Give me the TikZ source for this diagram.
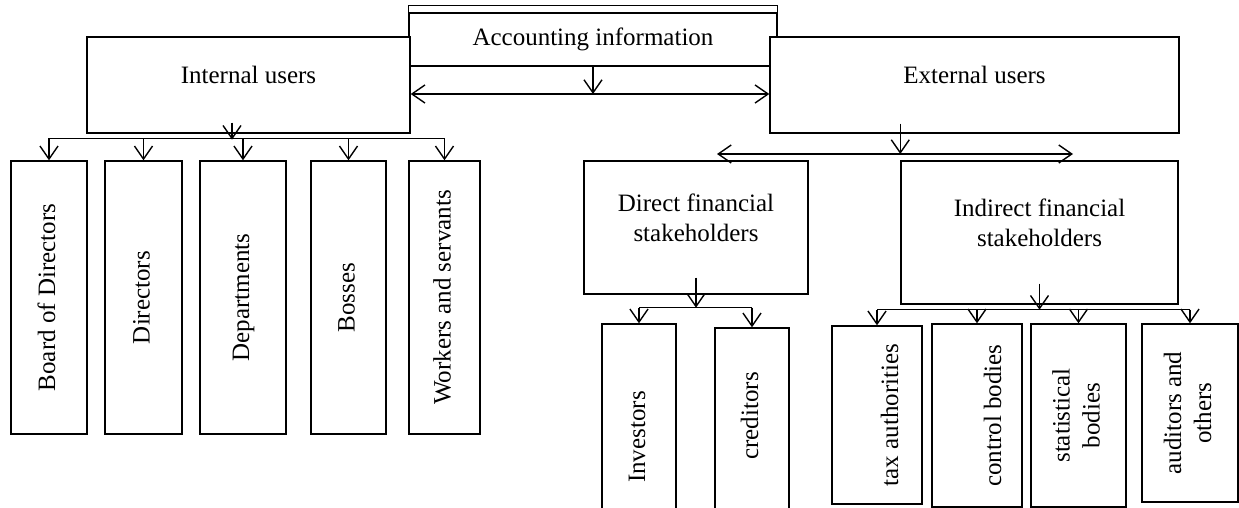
\documentclass[tikz,border=0pt]{standalone}
\usepackage{fontspec}
\setmainfont{Liberation Serif}
\usetikzlibrary{arrows.meta}

\newcommand{\vtext}[1]{\rotatebox{90}{\begin{tabular}{@{}c@{}}#1\end{tabular}}}

\begin{document}
\begin{tikzpicture}[x=0.5pt,y=-0.5pt,line width=0.7pt,
    >={Straight Barb[length=6.5pt,width=9pt]}]
  \tikzstyle{box}=[draw, fill=white, rectangle, inner sep=0pt,
    font=\fontsize{12.5}{15}\selectfont]

  \useasboundingbox (0,0) rectangle (1239,508);
  \clip (0,0) rectangle (1239,508);

  % top row
  \node[box, minimum width=184pt, minimum height=26.5pt] (acc) at (593,39.5) {Accounting information};
  \draw (acc.north west) -- ++(0,-7) -| (acc.north east);
  \node[box, minimum width=161.5pt, minimum height=48pt, text height=9pt, text depth=10pt] (int) at (248.5,85) {Internal users};
  \node[box, minimum width=204.5pt, minimum height=48pt, text height=9pt, text depth=10pt] (ext) at (974.5,85) {External users};

  % internal users
  \node[box, minimum width=38pt, minimum height=136.5pt] (bod) at (49,297.5) {\vtext{Board of Directors}};
  \node[box, minimum width=38.5pt, minimum height=136.5pt] (dir) at (143.5,297.5) {\vtext{Directors}};
  \node[box, minimum width=43pt, minimum height=136.5pt] (dep) at (243,297.5) {\vtext{Departments}};
  \node[box, minimum width=37.5pt, minimum height=136.5pt] (bos) at (348.5,297.5) {\vtext{Bosses}};
  \node[box, minimum width=35.5pt, minimum height=136.5pt] (wrk) at (444.5,297.5) {\vtext{Workers and servants}};

  % external users
  \node[box, align=center, minimum width=112pt, minimum height=66.5pt, text depth=10pt] (dfs) at (696,227.5) {Direct financial\\stakeholders};
  \node[box, align=center, minimum width=138.5pt, minimum height=71.5pt, text depth=10pt] (ifs) at (1039.5,232.5) {Indirect financial\\stakeholders};

  \node[box, minimum width=37pt, minimum height=113pt] (inv) at (639,437) {\vtext{Investors}};
  \node[box, minimum width=37pt, minimum height=111pt] (cre) at (752,439) {\vtext{\hspace*{23pt}creditors}};

  \node[box, minimum width=45pt, minimum height=89pt] (tax) at (877,415) {\hspace*{15pt}\vtext{tax authorities}};
  \node[box, minimum width=45pt, minimum height=91.5pt] (ctl) at (977,415.5) {\hspace*{18pt}\vtext{control bodies}};
  \node[box, minimum width=47.5pt, minimum height=91.5pt] (sta) at (1078.5,415.5) {\vtext{statistical\\bodies}};
  \node[box, minimum width=48pt, minimum height=89pt] (aud) at (1190,413) {\vtext{auditors and\\others}};

  % connectors
  \coordinate (ia) at ([yshift=-4.5pt]int.east);
  \coordinate (ea) at ([yshift=-4.5pt]ext.west);
  \draw[<->] (ia) -- (ea);
  \draw[->] (acc.south) -- (acc.south |- ia);

  \coordinate (ib) at ([xshift=-8.25pt,yshift=-3pt]int.south);
  \draw[->] ([yshift=8.5pt]ib) -- (ib);
  \draw ([yshift=11pt]bod.north) -- ([yshift=11pt]wrk.north);
  \foreach \n in {bod,dir,dep,bos,wrk}
    \draw[->] ([yshift=11pt]\n.north) -- (\n.north);

  \coordinate (eb) at (ext.south -| ifs.north west);
  \coordinate (dl) at (717,154);
  \coordinate (dr) at (1073,154);
  \draw[<->] (dl) -- (dr);
  \draw[->] ([yshift=5pt]eb) -- (eb |- dl);

  \coordinate (db) at ([yshift=-6.5pt]dfs.south);
  \draw[->] ([yshift=8.5pt]dfs.south) -- (db);
  \draw (inv.north |- db) -- (cre.north |- db);
  \foreach \n in {inv,cre}
    \draw[->] (\n.north |- db) -- (\n.north);

  \coordinate (fb) at ([yshift=-2.5pt]ifs.south);
  \draw[->] ([yshift=10.5pt]ifs.south) -- (fb);
  \draw (tax.north |- fb) -- (aud.north |- fb);
  \foreach \n in {tax,ctl,sta,aud}
    \draw[->] (\n.north |- fb) -- (\n.north);
\end{tikzpicture}
\end{document}
